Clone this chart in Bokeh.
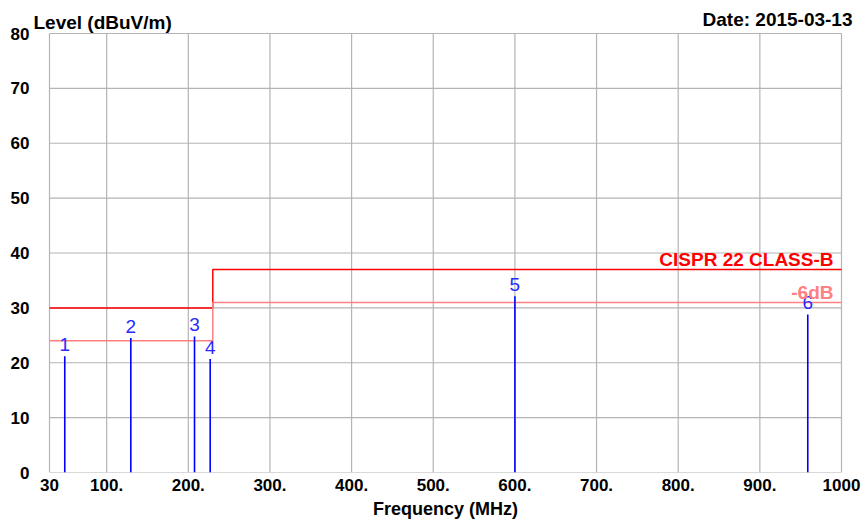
from bokeh.plotting import figure
from bokeh.models import Range1d, FixedTicker, Label, LabelSet, ColumnDataSource
from bokeh.core.properties import value
from bokeh.embed import file_html
from bokeh.resources import INLINE

# ---- data ----
x_ticks = [30, 100, 200, 300, 400, 500, 600, 700, 800, 900, 1000]
x_tick_labels = ["30", "100.", "200.", "300.", "400.", "500.", "600.", "700.", "800.", "900.", "1000"]
y_ticks = [0, 10, 20, 30, 40, 50, 60, 70, 80]

peak_ids = ["1", "2", "3", "4", "5", "6"]
peak_freq = [48.7, 129.6, 207.6, 226.8, 600.0, 958.7]
peak_level = [21.2, 24.5, 24.8, 20.7, 32.1, 28.8]

limit_freq = [30, 230, 230, 1000]
limit_level = [30, 30, 37, 37]
margin_level = [24, 24, 31, 31]

FONT = "Liberation Sans"

# ---- layout: the gridded area is 792 x 439 px; the frame is padded so texts around it are not clipped
GRID_W, GRID_H = 792, 439
PAD_X, PAD_TOP = 18, 28
xmin, xmax = x_ticks[0], x_ticks[-1]
ymin, ymax = y_ticks[0], y_ticks[-1]
ext_x = PAD_X * (xmax - xmin) / GRID_W
ext_y = PAD_TOP * (ymax - ymin) / GRID_H

p = figure(frame_width=GRID_W + 2 * PAD_X, frame_height=GRID_H + PAD_TOP,
           output_backend="svg", toolbar_location=None, title=None,
           x_range=Range1d(xmin - ext_x, xmax + ext_x), y_range=Range1d(ymin, ymax + ext_y),
           min_border_left=31, min_border_top=5, min_border_right=2, min_border_bottom=45)

grid_color = "#b4b4b4"
p.outline_line_color = None
p.grid.visible = False
p.background_fill_color = "white"
p.border_fill_color = "white"

p.xaxis.ticker = FixedTicker(ticks=x_ticks)
p.xaxis.major_label_overrides = {t: l for t, l in zip(x_ticks, x_tick_labels)}
p.yaxis.ticker = FixedTicker(ticks=y_ticks)

for ax in (p.xaxis, p.yaxis):
    ax.axis_line_color = None
    ax.major_tick_line_color = None
    ax.minor_tick_line_color = None
    ax.major_tick_out = 0
    ax.major_tick_in = 0
    ax.major_label_text_font = FONT
    ax.major_label_text_font_style = "bold"
    ax.major_label_text_font_size = "17px"
    ax.major_label_text_color = "black"

p.yaxis.major_label_standoff = 2
p.xaxis.major_label_standoff = 6
p.xaxis.axis_label = "Frequency (MHz)"
p.xaxis.axis_label_text_font = FONT
p.xaxis.axis_label_text_font_style = "bold"
p.xaxis.axis_label_text_font_size = "18px"
p.xaxis.axis_label_text_color = "black"
p.xaxis.axis_label_standoff = 5

# grid lines (including the border of the gridded area)
p.segment(x0=x_ticks, y0=[ymin] * len(x_ticks), x1=x_ticks, y1=[ymax] * len(x_ticks),
          line_color=grid_color, line_width=1.2)
p.segment(x0=[xmin] * len(y_ticks), y0=y_ticks, x1=[xmax] * len(y_ticks), y1=y_ticks,
          line_color=grid_color, line_width=1.2)

# limit lines
p.line(limit_freq, limit_level, line_color="#ff0000", line_width=1.5)
p.line(limit_freq, margin_level, line_color="#ff8080", line_width=1.5)

# peaks
src = ColumnDataSource(dict(x=peak_freq, y=peak_level, id=peak_ids, y0=[0] * len(peak_freq)))
p.segment(x0="x", y0="y0", x1="x", y1="y", source=src, line_color="#0000ff", line_width=1.6)
p.add_layout(LabelSet(x="x", y="y", text="id", source=src, y_offset=5,
                      text_align="center", text_baseline="alphabetic",
                      text_font=value(FONT), text_font_size=value("19px"), text_color=value("#2a2aff")))

# texts
label_kw = dict(text_baseline="alphabetic", text_font=FONT, text_font_style="bold", text_font_size="19px")
p.add_layout(Label(x=xmax, y=limit_level[-1], x_offset=-8, y_offset=10, text="CISPR 22 CLASS-B",
                   text_align="right", text_color="#ff0000", **label_kw))
p.add_layout(Label(x=xmax, y=margin_level[-1], x_offset=-8, y_offset=10, text="-6dB",
                   text_align="right", text_color="#ff8080", **label_kw))
p.add_layout(Label(x=xmin, y=ymax, x_offset=-16, y_offset=11, text="Level (dBuV/m)",
                   text_align="left", text_color="black", **label_kw))
p.add_layout(Label(x=xmax, y=ymax, x_offset=11, y_offset=14, text="Date: 2015-03-13",
                   text_align="right", text_color="black", **label_kw))

open("out.html", "w").write(file_html(p, INLINE))
